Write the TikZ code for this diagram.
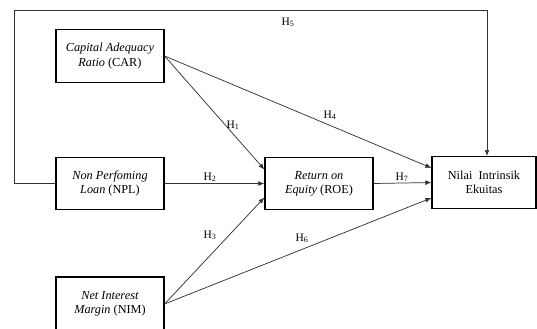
\documentclass[tikz,border=0pt]{standalone}
\usepackage{fontspec}
\setmainfont{Liberation Serif}
\usetikzlibrary{arrows.meta,calc}
\begin{document}
\begin{tikzpicture}[x=0.75pt,y=-0.75pt,
  varbox/.style={draw=black,line width=0.9pt,minimum width=81pt,minimum height=39.5pt,inner sep=0pt,align=center,font=\fontsize{9.2}{10.6}\selectfont},
  link/.style={draw=black!80,line width=0.55pt,-{Latex[length=4.5pt,width=3.6pt]}},
  hlab/.style={font=\fontsize{8.6}{10}\selectfont,inner sep=0pt}]
\useasboundingbox (0,0) rectangle (537,329);
\node[varbox] (car) at (110,56) {\textit{Capital Adequacy}\\\textit{Ratio} (CAR)};
\node[varbox] (npl) at (110,183.5) {\textit{Non Perfoming}\\\textit{Loan} (NPL)};
\node[varbox,minimum height=40.5pt] (nim) at (110,304) {\textit{Net Interest}\\\textit{Margin} (NIM)};
\node[varbox] (roe) at (319,183.5) {\textit{Return on}\\\textit{Equity} (ROE)};
\node[varbox,minimum width=78pt] (nil) at (484,182.5) {Nilai~~Intrinsik\\Ekuitas};
\coordinate (cl) at (14.5,183.5);
\coordinate (tl) at (14.5,10);
\coordinate (tr) at (487,10);
\coordinate (nt) at (487,156);
% arrows
\draw[link] (car.east) -- ([yshift=10.5pt]roe.west);
\draw[link] (npl.east) -- (roe.west);
\draw[link] (nim.east) -- ([yshift=-10.5pt]roe.west);
\draw[link] (car.east) -- ([yshift=10.9pt]nil.west);
\draw[link] (roe.east) -- (nil.west);
\draw[link] (nim.east) -- ([yshift=-11.6pt]nil.west);
\draw[link] (npl.west) -- (cl) -- (tl) -- (tr) -- (nt);
% labels
\node[hlab] (h1) at (233,125) {H\textsubscript{1}};
\node[hlab] (h2) at (210,177) {H\textsubscript{2}};
\node[hlab] (h3) at (210,235) {H\textsubscript{3}};
\node[hlab] (h4) at (330,115) {H\textsubscript{4}};
\node[hlab] (h5) at (288,22) {H\textsubscript{5}};
\node[hlab] (h6) at (302,238) {H\textsubscript{6}};
\node[hlab] (h7) at (402,177) {H\textsubscript{7}};
\end{tikzpicture}
\end{document}
